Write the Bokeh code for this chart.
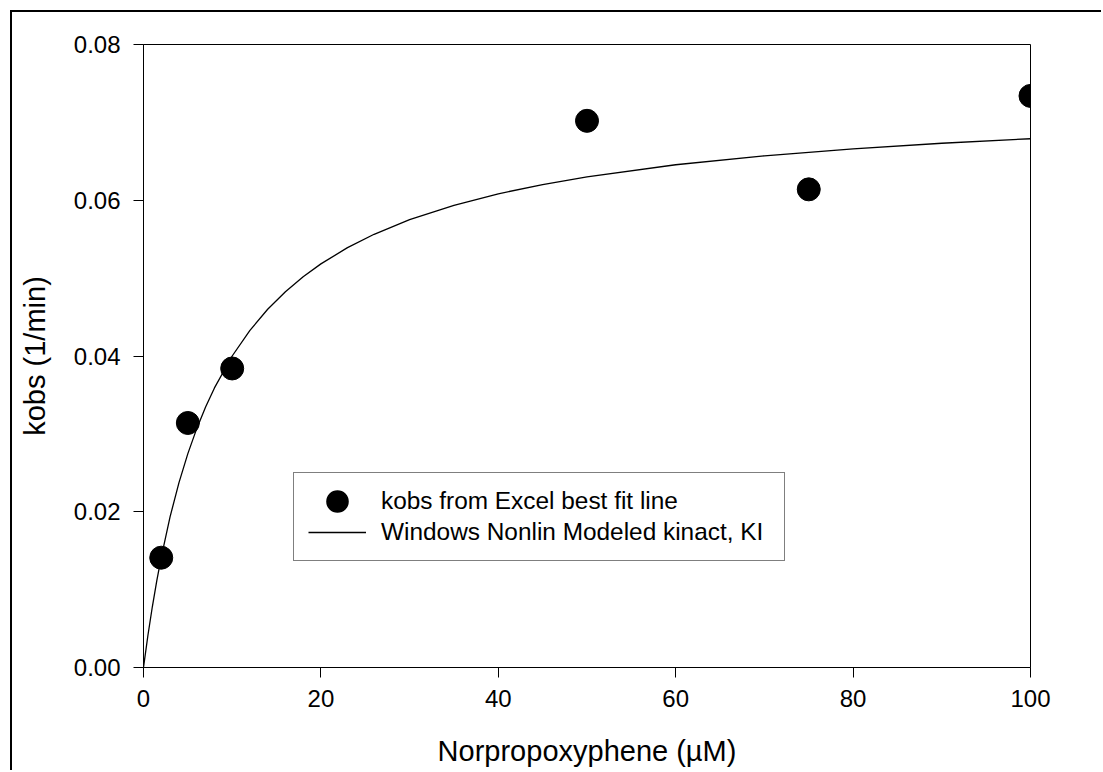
from bokeh.plotting import figure
from bokeh.models import Range1d, Legend, LegendItem, FixedTicker, NumeralTickFormatter
from bokeh.embed import file_html
from bokeh.resources import INLINE

# Observed kobs values (points)
conc = [2, 5, 10, 50, 75, 100]
kobs = [0.0141, 0.0314, 0.0384, 0.0702, 0.0614, 0.0734]

# Modeled curve
fit_conc = [0, 0.5, 1, 1.5, 2, 3, 4, 5, 6, 7, 8, 10, 12, 14, 16, 18, 20, 23, 26,
            30, 35, 40, 45, 50, 60, 70, 80, 90, 100]
fit_kobs = [0.0, 0.00414, 0.00783, 0.01115, 0.01415, 0.01937, 0.02374, 0.02746,
            0.03067, 0.03345, 0.0359, 0.0400, 0.04329, 0.0460, 0.04826, 0.05018,
            0.05183, 0.05391, 0.05563, 0.0575, 0.05935, 0.06083, 0.06202, 0.06301,
            0.06456, 0.06571, 0.06661, 0.06732, 0.0679]

x_ticks = [0, 20, 40, 60, 80, 100]
y_ticks = [0.0, 0.02, 0.04, 0.06, 0.08]

FONT = "Liberation Sans"

p = figure(width=1091, height=760, output_backend="svg", toolbar_location=None,
           x_range=Range1d(0, 100), y_range=Range1d(0, 0.08),
           min_border_left=131, min_border_right=73, min_border_top=32, min_border_bottom=105)
p.margin = (10, 0, 0, 10)
p.styles = {"border-left": "2px solid black", "border-top": "2px solid black"}

p.xgrid.visible = False
p.ygrid.visible = False
p.outline_line_color = "black"
p.outline_line_width = 1
p.background_fill_color = "white"
p.border_fill_color = "white"

for ax in (p.xaxis[0], p.yaxis[0]):
    ax.axis_line_color = "black"
    ax.axis_line_width = 1
    ax.major_tick_line_color = "black"
    ax.major_tick_out = 10
    ax.major_tick_in = 0
    ax.minor_tick_line_color = None
    ax.major_label_text_font = FONT
    ax.major_label_text_font_size = "24px"
    ax.major_label_text_color = "black"
    ax.axis_label_text_font = FONT
    ax.axis_label_text_font_size = "29px"
    ax.axis_label_text_font_style = "normal"
    ax.axis_label_text_color = "black"

p.xaxis.ticker = FixedTicker(ticks=x_ticks)
p.yaxis.ticker = FixedTicker(ticks=y_ticks)
p.yaxis.formatter = NumeralTickFormatter(format="0.00")
p.xaxis.axis_label = "Norpropoxyphene (µM)"
p.yaxis.axis_label = "kobs (1/min)"
p.xaxis.major_label_standoff = 12
p.yaxis.major_label_standoff = 13
p.xaxis.axis_label_standoff = 25
p.yaxis.axis_label_standoff = 20

pts = p.scatter(conc, kobs, size=23, marker="circle", fill_color="black", line_color="black")
ln = p.line(fit_conc, fit_kobs, line_color="black", line_width=1.3)
# hidden legend proxy so the legend dot matches the plotted dot size
pts_key = p.scatter(conc, kobs, size=23, marker="circle", fill_color="black",
                    line_color="black", line_width=13, visible=False)

legend = Legend(items=[LegendItem(label="kobs from Excel best fit line", renderers=[pts_key]),
                       LegendItem(label="Windows Nonlin Modeled kinact, KI", renderers=[ln])],
                location=(150, 106))
legend.label_text_font = FONT
legend.label_text_font_size = "24.4px"
legend.label_text_color = "black"
legend.glyph_width = 58
legend.glyph_height = 24
legend.label_height = 24
legend.label_width = 389
legend.label_standoff = 15
legend.spacing = 3
legend.padding = 14
legend.margin = 0
legend.border_line_color = "black"
legend.border_line_width = 1
legend.background_fill_color = "white"
legend.background_fill_alpha = 1
p.add_layout(legend)

open("out.html", "w").write(file_html(p, INLINE))
